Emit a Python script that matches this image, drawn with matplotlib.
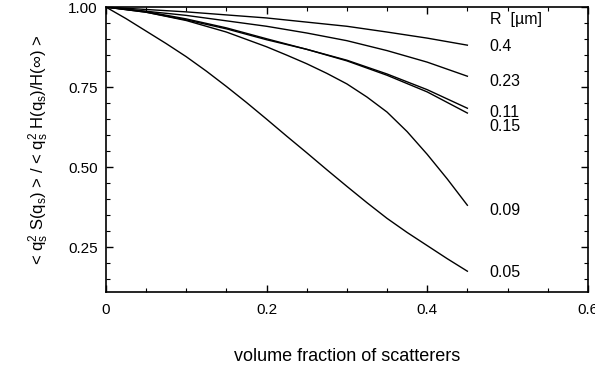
import matplotlib
matplotlib.use("Agg")
import matplotlib.pyplot as plt
from matplotlib.ticker import MultipleLocator, FixedLocator

plt.rcParams['font.family'] = ['Liberation Sans', 'DejaVu Sans']
plt.rcParams['mathtext.fontset'] = 'custom'
plt.rcParams['mathtext.rm'] = 'Liberation Sans'
plt.rcParams['mathtext.it'] = 'Liberation Sans'

# Data (x = volume fraction)
x_r040 = [0, 0.1, 0.2, 0.3, 0.35, 0.4, 0.45]
y_r040 = [1.0, 0.985, 0.966, 0.94, 0.922, 0.903, 0.881]

x_r023 = [0, 0.1, 0.2, 0.25, 0.3, 0.35, 0.4, 0.45]
y_r023 = [1.0, 0.974, 0.94, 0.919, 0.895, 0.864, 0.828, 0.784]

x_r011 = [0, 0.05, 0.1, 0.15, 0.2, 0.25, 0.3, 0.35, 0.4, 0.45]
y_r011 = [1.0, 0.984, 0.96, 0.932, 0.898, 0.868, 0.834, 0.791, 0.742, 0.684]

x_r015 = [0, 0.05, 0.1, 0.15, 0.2, 0.25, 0.3, 0.35, 0.4, 0.45]
y_r015 = [1.0, 0.986, 0.963, 0.935, 0.901, 0.868, 0.832, 0.787, 0.735, 0.669]

x_r009 = [0, 0.05, 0.1, 0.15, 0.2, 0.225, 0.25, 0.275, 0.3, 0.325, 0.35,
          0.375, 0.4, 0.425, 0.45]
y_r009 = [1.0, 0.984, 0.958, 0.922, 0.876, 0.850, 0.823, 0.793, 0.760, 0.719,
          0.672, 0.611, 0.540, 0.463, 0.381]

x_r005 = [0, 0.025, 0.05, 0.075, 0.1, 0.125, 0.15, 0.175, 0.2, 0.225, 0.25,
          0.275, 0.3, 0.325, 0.35, 0.375, 0.4, 0.425, 0.45]
y_r005 = [1.0, 0.964, 0.925, 0.886, 0.845, 0.800, 0.752, 0.702, 0.650, 0.597,
          0.545, 0.492, 0.440, 0.389, 0.340, 0.296, 0.255, 0.214, 0.175]

label_texts = ["R  [µm]", "0.4", "0.23", "0.11", "0.15", "0.09", "0.05"]
label_y = [0.962, 0.878, 0.766, 0.671, 0.626, 0.366, 0.172]

xticks = [0, 0.2, 0.4, 0.6]
xtick_labels = ["0", "0.2", "0.4", "0.6"]
yticks = [0.25, 0.50, 0.75, 1.00]
ytick_labels = ["0.25", "0.50", "0.75", "1.00"]

fig = plt.figure(figsize=(5.95, 3.72), dpi=100)
ax = fig.add_axes([0.178, 0.215, 0.81, 0.766])

for xs, ys in [(x_r040, y_r040), (x_r023, y_r023), (x_r011, y_r011),
               (x_r015, y_r015), (x_r009, y_r009), (x_r005, y_r005)]:
    ax.plot(xs, ys, color='black', lw=1.0)

for t, yv in zip(label_texts, label_y):
    ax.text(0.478, yv, t, fontsize=11.5, va='center', ha='left')

ax.set_xlim(0, 0.6)
ax.set_ylim(0.11, 1.0)
ax.xaxis.set_major_locator(FixedLocator(xticks))
ax.set_xticklabels(xtick_labels)
ax.yaxis.set_major_locator(FixedLocator(yticks))
ax.set_yticklabels(ytick_labels)
ax.xaxis.set_minor_locator(MultipleLocator(0.05))
ax.yaxis.set_minor_locator(MultipleLocator(0.05))
ax.tick_params(which='both', direction='in', top=True, right=True, labelsize=11)
ax.tick_params(which='major', length=5, width=1)
ax.tick_params(which='minor', length=3, width=0.8)
ax.tick_params(axis='y', pad=6)
ax.tick_params(axis='x', pad=8)
for s in ax.spines.values():
    s.set_linewidth(1.2)

ax.set_xlabel("volume fraction of scatterers", fontsize=13, labelpad=22)
ax.set_ylabel(r"< $\mathrm{q_s^2}$ S($\mathrm{q_s}$) > / < $\mathrm{q_s^2}$ H($\mathrm{q_s}$)/H($\infty$) >",
              fontsize=12, labelpad=12)

fig.savefig("out.png", dpi=100)
